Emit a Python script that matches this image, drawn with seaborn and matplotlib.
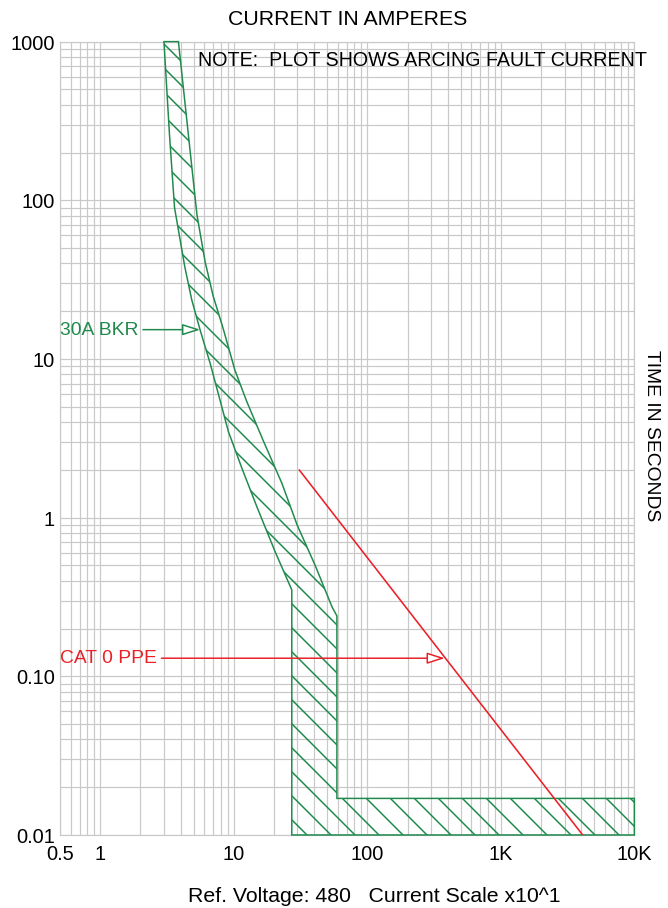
import numpy as np
import matplotlib
matplotlib.use('Agg')
import matplotlib.pyplot as plt
from matplotlib.ticker import LogLocator, NullFormatter
import seaborn as sns

# 30A breaker band (current x10^1, seconds)
bkr_min_amps = [3.0, 3.3, 3.6, 4.3, 4.85, 5.6, 6.65, 7.8, 9.1, 11.5, 14.9, 20.4, 27.2, 27.2]
bkr_min_time = [1000, 260, 90, 38, 23.5, 15.2, 9.4, 5.7, 3.5, 2.05, 1.17, 0.61, 0.35, 0.01]
bkr_max_amps = [3.85, 5.3, 6.1, 7.0, 8.3, 10.2, 12.5, 16.5, 22.9, 29.8, 40.7, 54.3, 59.2, 59.2, 10000, 10000]
bkr_max_time = [1000, 81, 41, 25, 15.7, 8.5, 5.4, 3.1, 1.65, 0.9, 0.5, 0.275, 0.24, 0.017, 0.017, 0.01]

# CAT 0 PPE limit line
ppe_amps = [30.9, 4100]
ppe_time = [2.0, 0.01]

# label arrow targets
bkr_label_point = (5.6, 15.3)
ppe_label_point = (380, 0.13)

x_tick_vals = [0.5, 1, 10, 100, 1000, 10000]
x_tick_labels = ['0.5', '1', '10', '100', '1K', '10K']
y_tick_vals = [0.01, 0.1, 1, 10, 100, 1000]
y_tick_labels = ['0.01', '0.10', '1', '10', '100', '1000']

GREEN = '#1f8a4c'
RED = '#ea2027'
GRID = '#c9c9c9'
DPI = 144  # hatch spacing scales with dpi

sns.set_theme(style='whitegrid')
plt.rcParams['font.family'] = ['Liberation Sans', 'DejaVu Sans']
plt.rcParams['text.color'] = 'black'
plt.rcParams['hatch.linewidth'] = 0.75
plt.rcParams['hatch.color'] = GREEN

fig = plt.figure(figsize=(668.4 / DPI, 908.4 / DPI), dpi=DPI)
ax = fig.add_axes([60 / 668, 1 - 835 / 908, 574 / 668, 793 / 908])
ax.set_xscale('log')
ax.set_yscale('log')
ax.set_xlim(0.5, 10000)
ax.set_ylim(0.01, 1000)

# hatched breaker band
band_x = bkr_min_amps + bkr_max_amps[::-1]
band_y = bkr_min_time + bkr_max_time[::-1]
ax.fill(band_x, band_y, facecolor='none', edgecolor=GREEN, hatch='\\\\',
        lw=0.75, clip_on=False, zorder=3)

# PPE line
sns.lineplot(x=ppe_amps, y=ppe_time, color=RED, lw=0.8, ax=ax, zorder=4)

# ticks and grid
ax.set_xticks(x_tick_vals, x_tick_labels)
ax.set_yticks(y_tick_vals, y_tick_labels)
ax.xaxis.set_minor_locator(LogLocator(base=10, subs=np.arange(2, 10), numticks=100))
ax.yaxis.set_minor_locator(LogLocator(base=10, subs=np.arange(2, 10), numticks=100))
ax.xaxis.set_minor_formatter(NullFormatter())
ax.yaxis.set_minor_formatter(NullFormatter())
ax.grid(True, which='both', color=GRID, lw=0.6)
ax.set_axisbelow(True)
ax.tick_params(which='both', length=0, labelsize=10, colors='black')
ax.tick_params(axis='x', pad=5)
ax.tick_params(axis='y', pad=2.5)
for sp in ax.spines.values():
    sp.set_color(GRID)
    sp.set_linewidth(0.6)
ax.set_xlabel('')
ax.set_ylabel('')

# labels with arrows
arrow_kw = dict(arrowstyle='-|>,head_length=0.75,head_width=0.24', mutation_scale=10,
                fc='white', lw=0.75, shrinkA=0, shrinkB=0)
ax.annotate('30A BKR', xy=bkr_label_point, xytext=(0.5, bkr_label_point[1]),
            color=GREEN, fontsize=9.6, ha='left', va='center', zorder=5,
            arrowprops=dict(ec=GREEN, **arrow_kw))
ax.annotate('CAT 0 PPE', xy=ppe_label_point, xytext=(0.5, ppe_label_point[1]),
            color=RED, fontsize=9.6, ha='left', va='center', zorder=5,
            arrowprops=dict(ec=RED, **arrow_kw))

ax.text(1.0226, 0.977, 'NOTE:  PLOT SHOWS ARCING FAULT CURRENT', transform=ax.transAxes,
        ha='right', va='center', fontsize=9.8, clip_on=False)

fig.text(347 / 668, 1 - 19 / 908, 'CURRENT IN AMPERES', ha='center', va='center', fontsize=10.6)
fig.text(651 / 668, 1 - 435 / 908, 'TIME IN SECONDS', ha='center', va='center',
         rotation=270, fontsize=9.6)
fig.text(374 / 668, 1 - 896 / 908, 'Ref. Voltage: 480   Current Scale x10^1',
         ha='center', va='center', fontsize=10.6)

fig.savefig('out.png', dpi=DPI, facecolor='white')
